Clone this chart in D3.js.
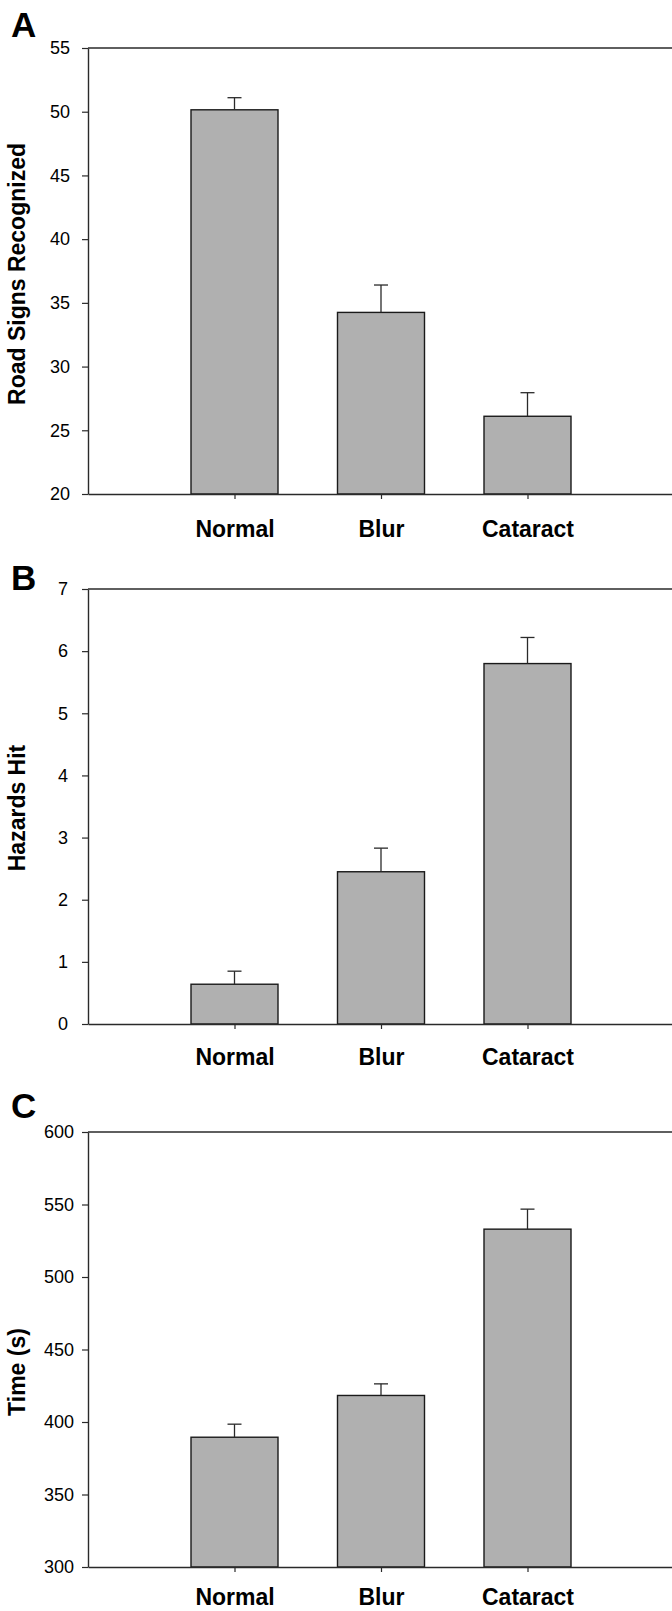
<!DOCTYPE html>
<html>
<head>
<meta charset="utf-8">
<script src="https://cdn.jsdelivr.net/npm/d3@7"></script>
<style>
  html, body { margin: 0; padding: 0; background: #fff; }
  svg { display: block; }
  text { font-family: "Liberation Sans", Arial, sans-serif; fill: #000; }
</style>
</head>
<body>
<svg id="chart" width="672" height="1611"></svg>
<script>
// ---- Data ----
const categories = ["Normal", "Blur", "Cataract"];

const signsMean = [50.15, 34.25, 26.1];
const signsErr  = [0.95, 2.15, 1.85];
const signsTicks = [20, 25, 30, 35, 40, 45, 50, 55];

const hazardsMean = [0.64, 2.45, 5.8];
const hazardsErr  = [0.21, 0.38, 0.42];
const hazardsTicks = [0, 1, 2, 3, 4, 5, 6, 7];

const timeMean = [389.5, 418.3, 533];
const timeErr  = [9, 8, 13.8];
const timeTicks = [300, 350, 400, 450, 500, 550, 600];

const panelLetters = ["A", "B", "C"];
const yTitles = ["Road Signs Recognized", "Hazards Hit", "Time (s)"];

// ---- Layout ----
const svg = d3.select("#chart");
svg.append("rect").attr("width", 672).attr("height", 1611).attr("fill", "#fff");

const left = 88, right = 674, frameRight = 672;
const x = d3.scalePoint().domain(categories).range([left, right]).padding(1);
const barW = 87;
const lineColor = "#2a2a2a";

const panels = [
  { letter: panelLetters[0], title: yTitles[0], mean: signsMean, err: signsErr, ticks: signsTicks,
    domain: [20, 55], top: 48, bottom: 494, letterY: 37, titleY: 274, tickPad: 12, xPad: 22 },
  { letter: panelLetters[1], title: yTitles[1], mean: hazardsMean, err: hazardsErr, ticks: hazardsTicks,
    domain: [0, 7], top: 589, bottom: 1024, letterY: 590, titleY: 808, tickPad: 14, xPad: 20 },
  { letter: panelLetters[2], title: yTitles[2], mean: timeMean, err: timeErr, ticks: timeTicks,
    domain: [300, 600], top: 1132, bottom: 1567, letterY: 1118, titleY: 1372, tickPad: 8, xPad: 17 }
];

panels.forEach(p => {
  const g = svg.append("g");
  const y = d3.scaleLinear().domain(p.domain).range([p.bottom, p.top]);

  // panel letter
  g.append("text")
    .attr("x", 11).attr("y", p.letterY)
    .attr("font-size", 35).attr("font-weight", "bold")
    .text(p.letter);

  // y title
  g.append("text")
    .attr("transform", `translate(25,${p.titleY}) rotate(-90)`)
    .attr("text-anchor", "middle")
    .attr("font-size", 23).attr("font-weight", "bold")
    .text(p.title);

  // top frame line
  g.append("line")
    .attr("x1", left).attr("x2", frameRight)
    .attr("y1", y(p.domain[1])).attr("y2", y(p.domain[1]))
    .attr("stroke", lineColor).attr("stroke-width", 1.4);

  // y axis
  const yAxis = d3.axisLeft(y).tickValues(p.ticks).tickFormat(d3.format("d"))
    .tickSize(6).tickSizeOuter(0).tickPadding(p.tickPad);
  const ya = g.append("g").attr("transform", `translate(${left},0)`).call(yAxis);
  ya.select(".domain").attr("stroke", lineColor).attr("stroke-width", 1.4);
  ya.selectAll(".tick line").attr("stroke", lineColor).attr("stroke-width", 1.2);
  ya.selectAll(".tick text")
    .attr("font-size", 18).attr("fill", "#000")
    .attr("font-family", "'Liberation Sans', Arial, sans-serif");

  // bars
  g.selectAll("rect.bar").data(categories).enter().append("rect")
    .attr("class", "bar")
    .attr("x", d => x(d) - barW / 2)
    .attr("width", barW)
    .attr("y", (d, i) => y(p.mean[i]))
    .attr("height", (d, i) => y(p.domain[0]) - y(p.mean[i]))
    .attr("fill", "#b0b0b0")
    .attr("stroke", "#1a1a1a").attr("stroke-width", 1.4);

  // error bars (upper only)
  g.selectAll("line.err").data(categories).enter().append("line")
    .attr("x1", d => x(d)).attr("x2", d => x(d))
    .attr("y1", (d, i) => y(p.mean[i]))
    .attr("y2", (d, i) => y(p.mean[i] + p.err[i]))
    .attr("stroke", lineColor).attr("stroke-width", 1.3);
  g.selectAll("line.cap").data(categories).enter().append("line")
    .attr("x1", d => x(d) - 7).attr("x2", d => x(d) + 7)
    .attr("y1", (d, i) => y(p.mean[i] + p.err[i]))
    .attr("y2", (d, i) => y(p.mean[i] + p.err[i]))
    .attr("stroke", lineColor).attr("stroke-width", 1.3);

  // x axis
  const xAxis = d3.axisBottom(x).tickSize(5).tickSizeOuter(0).tickPadding(p.xPad);
  const xa = g.append("g").attr("transform", `translate(0,${p.bottom})`).call(xAxis);
  xa.select(".domain").attr("stroke", lineColor).attr("stroke-width", 1.4);
  xa.selectAll(".tick line").attr("stroke", lineColor).attr("stroke-width", 1.2);
  xa.selectAll(".tick text")
    .attr("font-size", 23).attr("font-weight", "bold").attr("fill", "#000")
    .attr("font-family", "'Liberation Sans', Arial, sans-serif");
});
</script>
</body>
</html>
